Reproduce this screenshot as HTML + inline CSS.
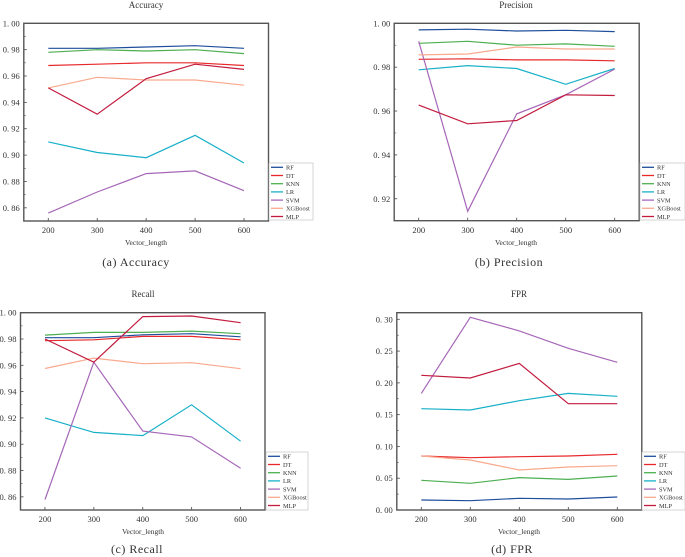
<!DOCTYPE html>
<html><head><meta charset="utf-8"><style>
html,body{margin:0;padding:0;background:#fff;width:685px;height:557px;overflow:hidden}
svg{position:absolute;left:0;top:0}
text{font-family:"Liberation Serif",serif;fill:#333}
</style></head><body>
<svg id="chart" width="685" height="557" viewBox="0 0 685 557"></svg>
<script>
const categories=[200,300,400,500,600];
const seriesNames=["RF","DT","KNN","LR","SVM","XGBoost","MLP"];
const seriesColors=["#1f4e9c","#e8282a","#4caf50","#17b0c8","#a667b8","#f9a98e","#c21b3e"];
const accuracyRF=[0.981,0.981,0.982,0.983,0.981];
const accuracyDT=[0.968,0.969,0.970,0.970,0.968];
const accuracyKNN=[0.978,0.980,0.979,0.980,0.977];
const accuracyLR=[0.910,0.902,0.898,0.915,0.894];
const accuracySVM=[0.856,0.872,0.886,0.888,0.873];
const accuracyXGB=[0.951,0.959,0.957,0.957,0.953];
const accuracyMLP=[0.951,0.931,0.958,0.969,0.965];
const precisionRF=[0.997,0.9973,0.9965,0.9968,0.9962];
const precisionDT=[0.9836,0.9838,0.9833,0.9833,0.9829];
const precisionKNN=[0.9909,0.9918,0.990,0.9906,0.9895];
const precisionLR=[0.9788,0.9807,0.9794,0.9722,0.9794];
const precisionSVM=[0.9918,0.9143,0.9587,0.9674,0.9791];
const precisionXGB=[0.9856,0.986,0.9892,0.9883,0.9883];
const precisionMLP=[0.9627,0.9542,0.9557,0.9674,0.9671];
const recallRF=[0.981,0.981,0.9832,0.984,0.9817];
const recallDT=[0.9787,0.9794,0.982,0.982,0.9794];
const recallKNN=[0.983,0.985,0.985,0.986,0.984];
const recallLR=[0.920,0.909,0.9066,0.930,0.9023];
const recallSVM=[0.858,0.9624,0.910,0.9056,0.8817];
const recallXGB=[0.9576,0.9655,0.9612,0.962,0.9574];
const recallMLP=[0.980,0.9624,0.997,0.9975,0.9924];
const fprRF=[0.0157,0.0147,0.0184,0.0173,0.0205];
const fprDT=[0.085,0.0823,0.0839,0.085,0.0876];
const fprKNN=[0.0467,0.042,0.0509,0.0482,0.0535];
const fprLR=[0.1594,0.1573,0.172,0.1835,0.1788];
const fprSVM=[0.1835,0.3031,0.2817,0.2544,0.2324];
const fprXGB=[0.085,0.0786,0.0629,0.0676,0.0697];
const fprMLP=[0.2119,0.2077,0.2307,0.1672,0.1672];
const accTicks=["0. 86","0. 88","0. 90","0. 92","0. 94","0. 96","0. 98","1. 00"];
const precTicks=["0. 92","0. 94","0. 96","0. 98","1. 00"];
const recTicks=accTicks;
const fprTicks=["0. 00","0. 05","0. 10","0. 15","0. 20","0. 25","0. 30"];

const NS="http://www.w3.org/2000/svg";
const svg=document.getElementById('chart');
function mk(tag,attrs,parent,txt){const e=document.createElementNS(NS,tag);for(const k in attrs)e.setAttribute(k,attrs[k]);if(txt!==undefined)e.textContent=txt;(parent||svg).appendChild(e);return e;}

const panels=[
 {key:"accuracy",title:"Accuracy",cap:"(a)  Accuracy",box:[23.8,23.3,268.5,221],ymin:0.85,ymax:1.0,ticks:accTicks,tv:0.86,ts:0.02,data:[accuracyRF,accuracyDT,accuracyKNN,accuracyLR,accuracySVM,accuracyXGB,accuracyMLP],tx:146,capx:136,ty:8,axy:245,capy:266,xly:233,leg:[269,163,313,220]},
 {key:"precision",title:"Precision",cap:"(b)  Precision",box:[394.2,23.3,639.2,220.7],ymin:0.91,ymax:1.0,ticks:precTicks,tv:0.92,ts:0.02,data:[precisionRF,precisionDT,precisionKNN,precisionLR,precisionSVM,precisionXGB,precisionMLP],tx:516,capx:509,ty:8,axy:245,capy:266,xly:233,leg:[640,163,685,220]},
 {key:"recall",title:"Recall",cap:"(c)  Recall",box:[20.5,312.7,265,510],ymin:0.85,ymax:1.0,ticks:recTicks,tv:0.86,ts:0.02,data:[recallRF,recallDT,recallKNN,recallLR,recallSVM,recallXGB,recallMLP],tx:143,capx:137,ty:297,axy:534,capy:553,xly:522,leg:[266,452,308,510]},
 {key:"fpr",title:"FPR",cap:"(d)  FPR",box:[396.8,312.7,641.8,510],ymin:0,ymax:0.3104,ticks:fprTicks,tv:0,ts:0.05,data:[fprRF,fprDT,fprKNN,fprLR,fprSVM,fprXGB,fprMLP],tx:519,capx:512,ty:297,axy:534,capy:553,xly:522,leg:[642,452,685,510]}
];

panels.forEach(p=>{
 const [x0,y0,x1,y1]=p.box;
 const g=mk('g',{});
 
 
 const xs=v=>x0+(v-150)/500*(x1-x0);
 const ys=v=>y1-(v-p.ymin)/(p.ymax-p.ymin)*(y1-y0);
 const t=mk('text',{x:p.tx,y:p.ty,'text-anchor':'middle','font-size':'9'},g,p.title);
 
 p.ticks.forEach((lab,i)=>{
  const v=p.tv+i*p.ts, y=ys(v);
  mk('line',{x1:x0,x2:x0+3,y1:y,y2:y,stroke:'#444','stroke-width':0.8},g);
  const ym=ys(v+p.ts/2);
  if(ym>y0+1) mk('line',{x1:x0,x2:x0+2,y1:ym,y2:ym,stroke:'#444','stroke-width':0.6},g);
  const l=mk('text',{x:x0-4,y:y+3,'text-anchor':'end','font-size':'8.5'},g,lab);
  
 });
 categories.forEach(c=>{
  const x=xs(c);
  mk('line',{x1:x,x2:x,y1:y1,y2:y1-3,stroke:'#444','stroke-width':0.8},g);
  const l=mk('text',{x:x,y:p.xly,'text-anchor':'middle','font-size':'8.5'},g,String(c));
  
 });
 const ax=mk('text',{x:p.tx,y:p.axy,'text-anchor':'middle','font-size':'7.5'},g,'Vector_length');
 
 const cp=mk('text',{x:p.capx,y:p.capy,'text-anchor':'middle','font-size':'12','letter-spacing':'0.5'},g,p.cap);
 
 p.data.forEach((arr,si)=>{
  const pts=arr.map((v,i)=>xs(categories[i]).toFixed(1)+','+ys(v).toFixed(1)).join(' ');
  const pl=mk('polyline',{points:pts,fill:'none',stroke:seriesColors[si],'stroke-width':1.2},g);
  
  
 });
 const fr=mk('rect',{x:x0,y:y0,width:x1-x0,height:y1-y0,fill:'none',stroke:'#555','stroke-width':1.4},g);
 
 const [lx0,ly0,lx1,ly1]=p.leg;
 const lg=mk('g',{},g);
 
 mk('rect',{x:lx0,y:ly0,width:lx1-lx0,height:ly1-ly0,fill:'#fff',stroke:'#bbb','stroke-width':0.6},lg);
 seriesNames.forEach((n,si)=>{
  const y=ly0+4.3+si*8.2;
  const e=mk('g',{},lg);
  
  
  mk('line',{x1:lx0+2,x2:lx0+14,y1:y,y2:y,stroke:seriesColors[si],'stroke-width':1.3},e);
  mk('text',{x:lx0+17,y:y+2.3,'font-size':'6.3'},e,n);
 });
});
</script>
</body></html>
